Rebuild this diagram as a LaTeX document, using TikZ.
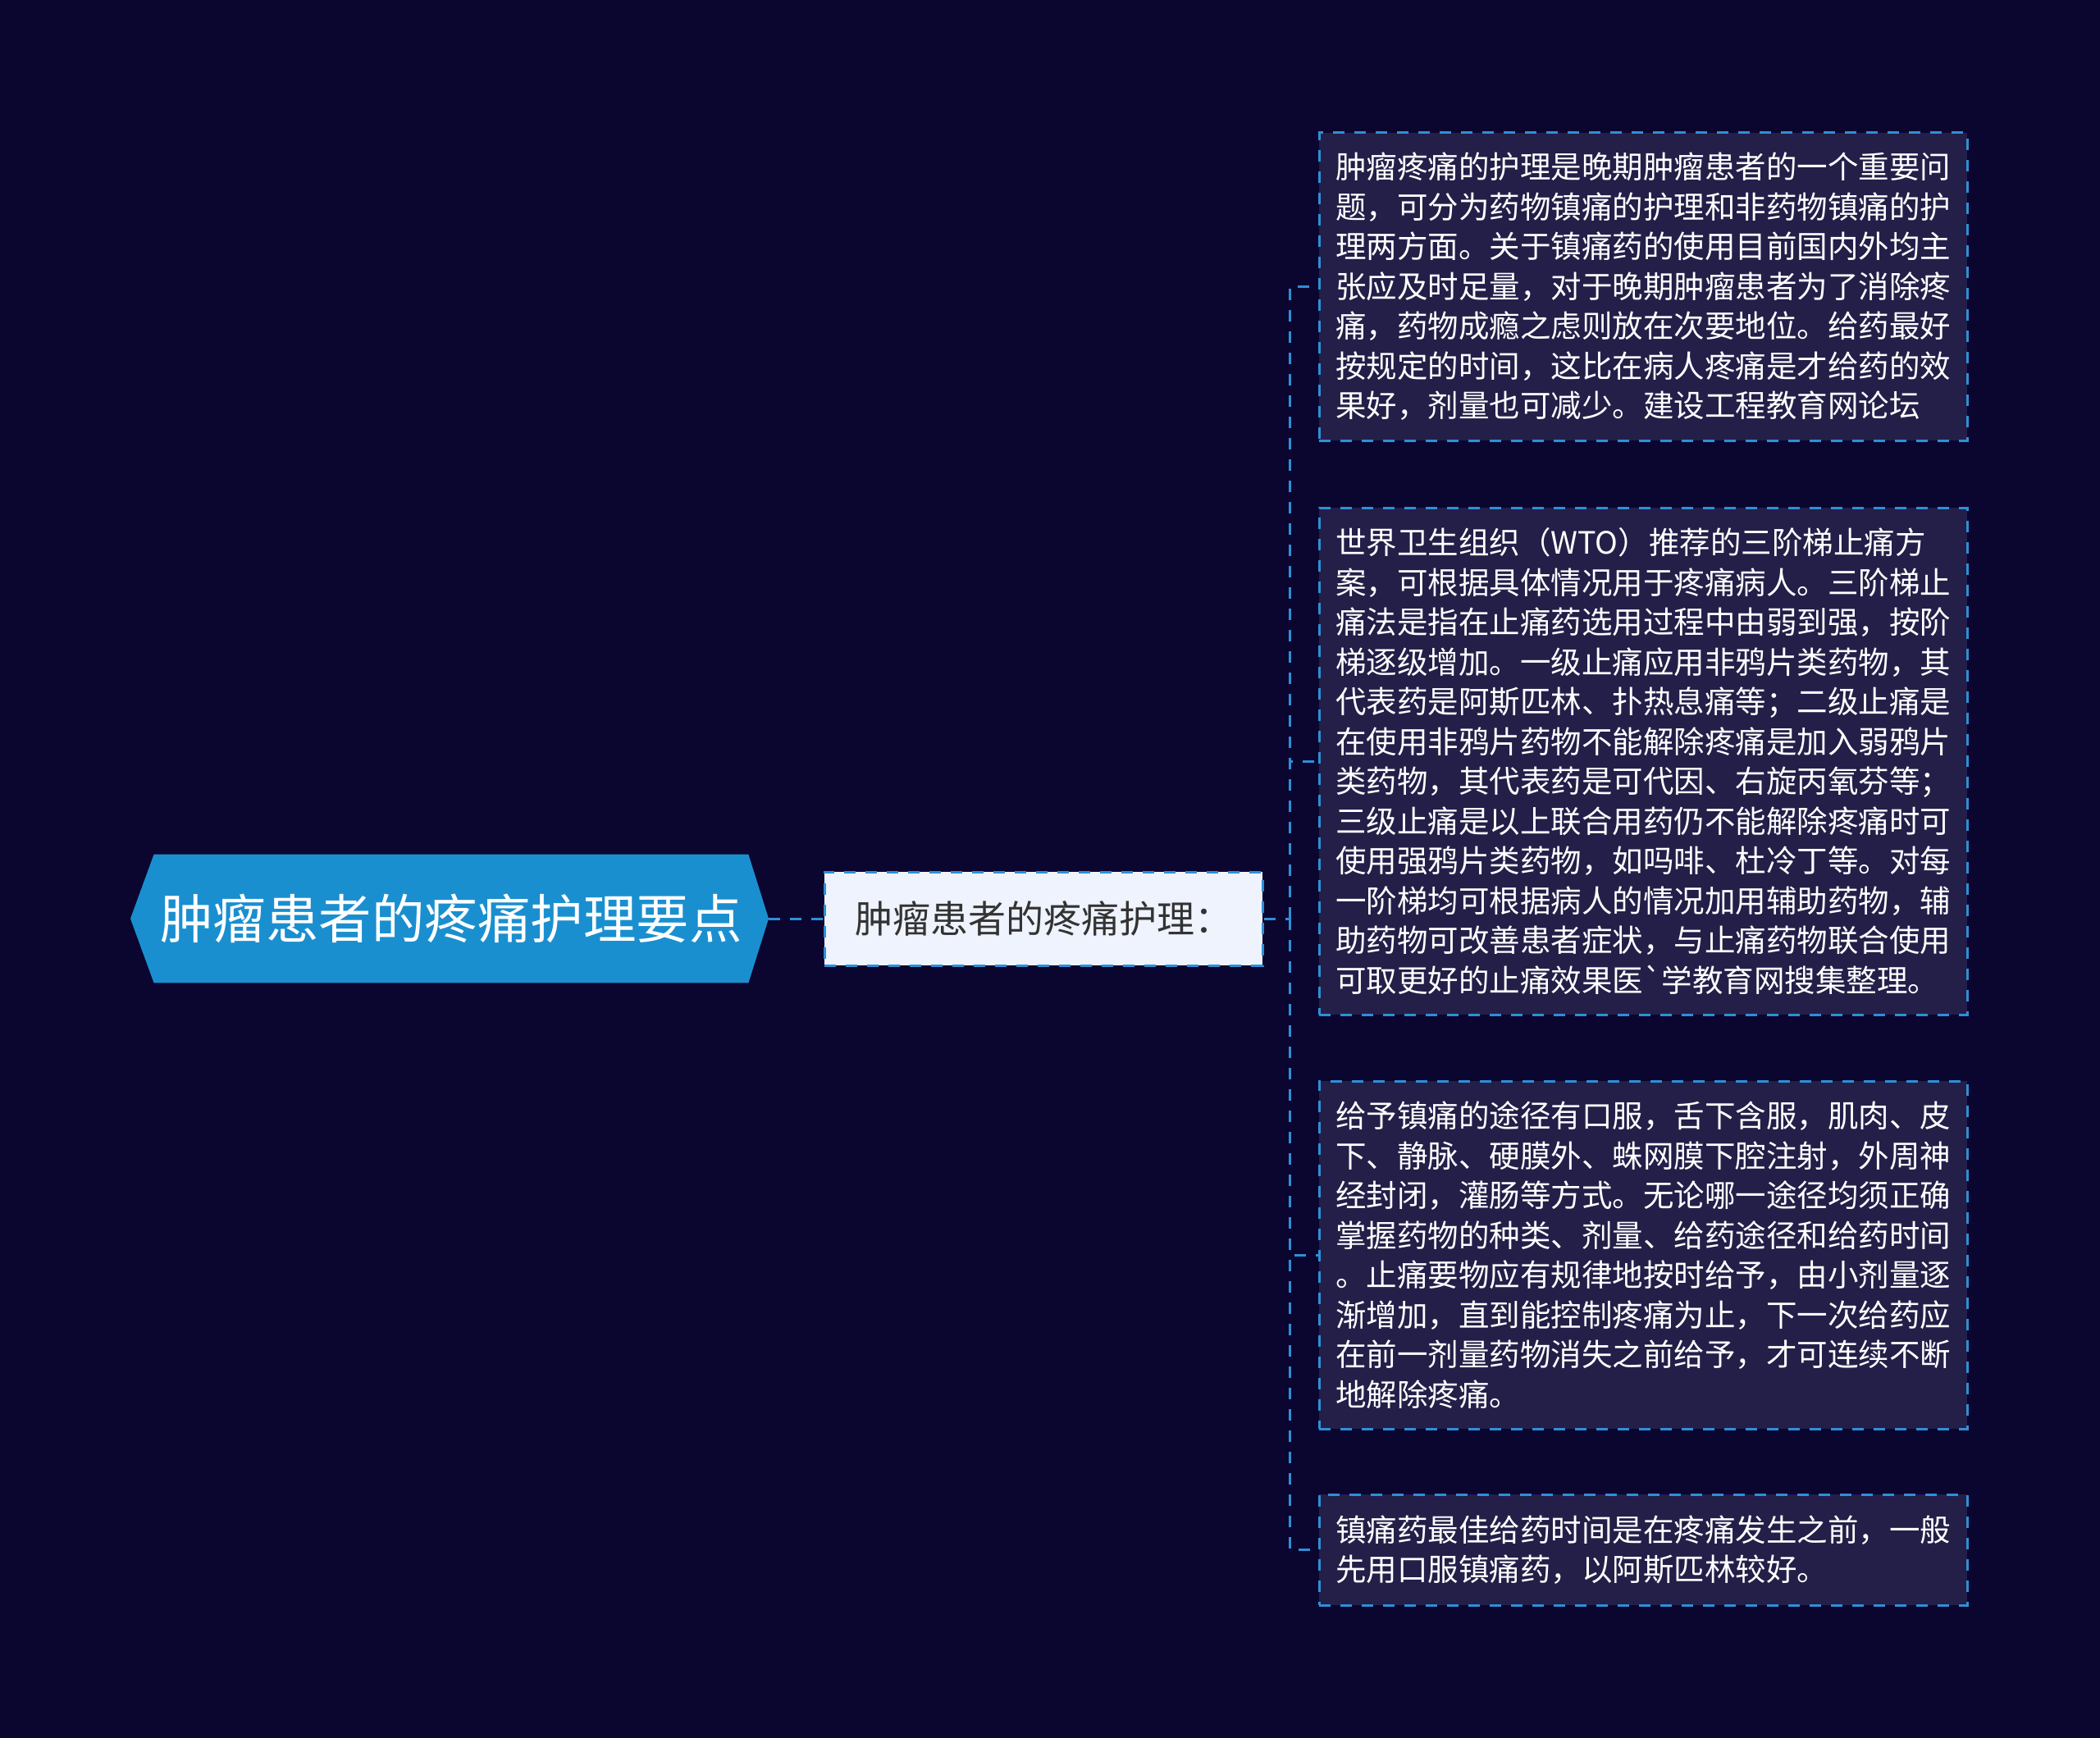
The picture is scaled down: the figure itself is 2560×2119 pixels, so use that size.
\documentclass[tikz,border=0pt]{standalone}
\usepackage{fontspec}
\newfontfamily\cjk{Noto Sans CJK SC}
\usetikzlibrary{backgrounds}
\definecolor{bgnavy}{HTML}{0B0630}
\definecolor{rootblue}{HTML}{1A8FD0}
\definecolor{linkblue}{HTML}{2F8FD6}
\definecolor{leaffill}{HTML}{231F48}
\definecolor{subfill}{HTML}{EEF3FD}
\definecolor{subtext}{HTML}{333333}
\tikzset{
	link/.style={draw=linkblue, line width=1.5pt, dash pattern=on 7pt off 6pt},
	rootbox/.style={minimum width=362pt, minimum height=78pt, inner sep=0pt, text=white,
		font=\cjk\fontsize{32.25pt}{38pt}\selectfont},
	subbox/.style={link, fill=subfill, minimum width=267pt, minimum height=57pt, inner sep=0pt,
		text=subtext, font=\cjk\fontsize{23pt}{28pt}\selectfont},
	leafbox/.style={link, fill=leaffill, text=white, text width=375pt, inner xsep=10pt, inner ysep=0pt,
		align=left, font=\cjk\fontsize{18.75pt}{24.25pt}\selectfont},
}
\begin{document}
\begin{tikzpicture}[x=0.5pt,y=-0.5pt]
	\node[rootbox] (root) at (550,1120) {肿瘤患者的疼痛护理要点};
	\coordinate (roottip) at (937,1120);
	\coordinate (roottail) at (159,1120);
	\begin{pgfonlayer}{background}
		\fill[bgnavy] (0,0) rectangle (2560,2119);
		\fill[rootblue] (root.north west) -- (root.north east) -- (roottip) -- (root.south east)
			-- (root.south west) -- (roottail) -- cycle;
	\end{pgfonlayer}
	\node[subbox] (sub) at (1272,1120) {肿瘤患者的疼痛护理：};
	\coordinate (trunk) at (1572,1120);
	% leaves
	\node[leafbox, minimum height=187.5pt] (leafA) at (2003,349.5) {%
		肿瘤疼痛的护理是晚期肿瘤患者的一个重要问\\
		题，可分为药物镇痛的护理和非药物镇痛的护\\
		理两方面。关于镇痛药的使用目前国内外均主\\
		张应及时足量，对于晚期肿瘤患者为了消除疼\\
		痛，药物成瘾之虑则放在次要地位。给药最好\\
		按规定的时间，这比在病人疼痛是才给药的效\\
		果好，剂量也可减少。建设工程教育网论坛};
	\node[leafbox, minimum height=309pt] (leafB) at (2003,928) {%
		世界卫生组织（WTO）推荐的三阶梯止痛方\\
		案，可根据具体情况用于疼痛病人。三阶梯止\\
		痛法是指在止痛药选用过程中由弱到强，按阶\\
		梯逐级增加。一级止痛应用非鸦片类药物，其\\
		代表药是阿斯匹林、扑热息痛等；二级止痛是\\
		在使用非鸦片药物不能解除疼痛是加入弱鸦片\\
		类药物，其代表药是可代因、右旋丙氧芬等；\\
		三级止痛是以上联合用药仍不能解除疼痛时可\\
		使用强鸦片类药物，如吗啡、杜冷丁等。对每\\
		一阶梯均可根据病人的情况加用辅助药物，辅\\
		助药物可改善患者症状，与止痛药物联合使用\\
		可取更好的止痛效果医\textasciigrave 学教育网搜集整理。};
	\node[leafbox, minimum height=212pt] (leafC) at (2003,1530) {%
		给予镇痛的途径有口服，舌下含服，肌肉、皮\\
		下、静脉、硬膜外、蛛网膜下腔注射，外周神\\
		经封闭，灌肠等方式。无论哪一途径均须正确\\
		掌握药物的种类、剂量、给药途径和给药时间\\
		。止痛要物应有规律地按时给予，由小剂量逐\\
		渐增加，直到能控制疼痛为止，下一次给药应\\
		在前一剂量药物消失之前给予，才可连续不断\\
		地解除疼痛。};
	\node[leafbox, minimum height=67.5pt] (leafD) at (2003,1889.5) {%
		镇痛药最佳给药时间是在疼痛发生之前，一般\\
		先用口服镇痛药，以阿斯匹林较好。};
	% connectors
	\draw[link] (roottip) -- (sub.west);
	\draw[link] (sub.east) -- (trunk);
	\foreach \leaf in {leafA,leafB,leafC,leafD}
		\draw[link] (trunk) |- (\leaf.west);
\end{tikzpicture}
\end{document}
